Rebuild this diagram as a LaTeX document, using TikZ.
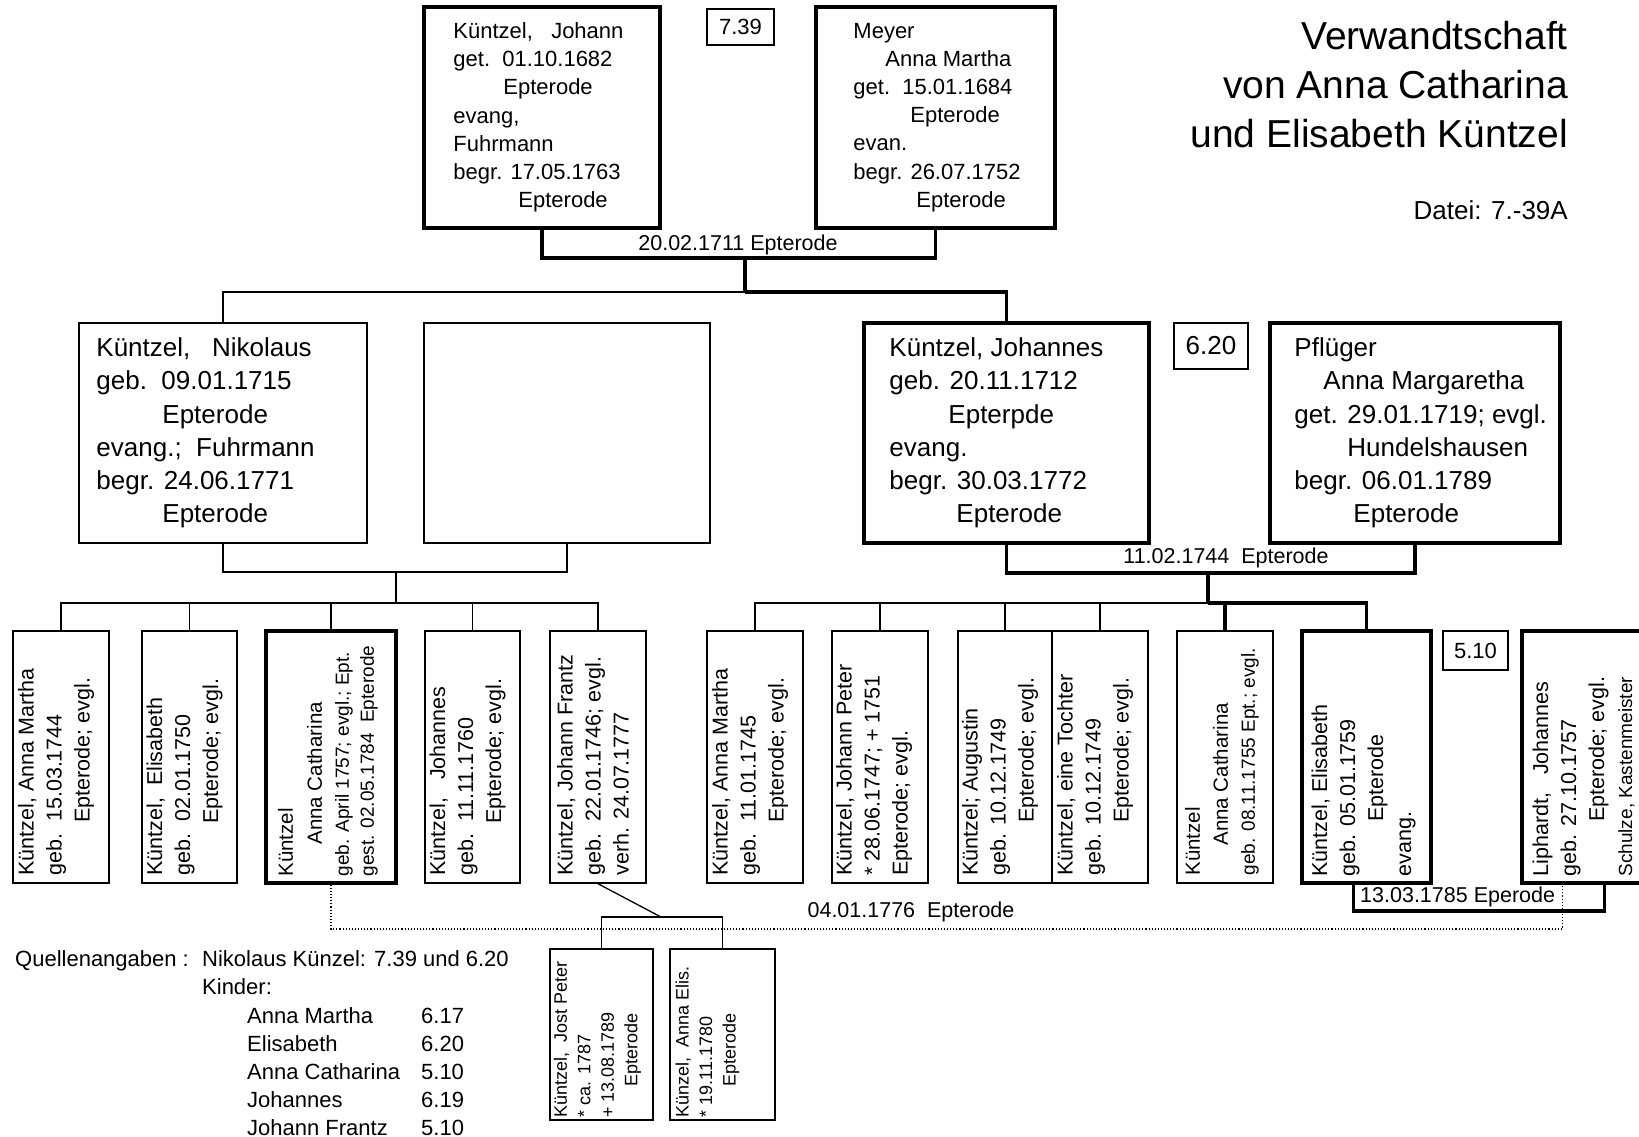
\documentclass[tikz,border=0pt]{standalone}
\usepackage{fontspec}
\setmainfont{Liberation Sans}
\newcommand{\fsTop}{\fontsize{22}{28.2}\selectfont}
\newcommand{\fsMid}{\fontsize{26}{33.2}\selectfont}
\newcommand{\fsKid}{\fontsize{21.5}{28}\selectfont}
\newcommand{\fsKidB}{\fontsize{20.5}{25}\selectfont}
\newcommand{\fsSmall}{\fontsize{19}{24}\selectfont}
\newcommand{\fsTiny}{\fontsize{18}{23.5}\selectfont}
\newcommand{\fsNote}{\fontsize{22}{28.2}\selectfont}
\newcommand{\fsTitle}{\fontsize{39}{49}\selectfont}

\begin{document}
\begin{tikzpicture}[
  x=1pt, y=-1pt,
  font=\fsTop,
  pbox/.style={rectangle, draw, line width=1.5pt, inner sep=0pt},
  pboxthick/.style={pbox, line width=3.5pt},
  txt/.style={inner sep=0pt, align=left, anchor=west},
  ktxt/.style={txt, rotate=90, font=\fsKid},
  link/.style={line width=1.3pt},
  thicklink/.style={line width=3.2pt},
  wedlink/.style={line width=1.1pt, dotted},
  datelabel/.style={inner sep=0pt, font=\fontsize{21.5}{26}\selectfont},
]
\useasboundingbox (0,0) rectangle (1639,1136);
\fill[white] (0,0) rectangle (1639,1136);
\clip (0,0) rectangle (1639,1136);

% title
\node[inner sep=0pt, align=right, anchor=north east, font=\fsTitle] (title) at (1568,21.5)
  {Verwandtschaft\\von Anna Catharina\\und Elisabeth Küntzel};
\node[inner sep=0pt, anchor=base east, font=\fontsize{26}{30}\selectfont] (datei) at (1568,219) {Datei: 7.-39A};

% generation 1
\node[pboxthick, minimum width=236pt, minimum height=221pt] (johann) at (542,117.5) {};
\node[txt] (johann-t) at ([xshift=31pt]johann.west)
  {Küntzel,\ \ \ Johann\\get.\ \ 01.10.1682\\\hspace*{50pt}Epterode\\evang,\\Fuhrmann\\begr. 17.05.1763\\\hspace*{65pt}Epterode};
\node[pbox, minimum width=67pt, minimum height=36pt] (ref739) at (740.5,27) {7.39};
\node[pboxthick, minimum width=239pt, minimum height=221pt] (meyer) at (935.5,117.5) {};
\node[txt] (meyer-t) at ([xshift=39pt]meyer.west)
  {Meyer\\\hspace*{32pt}Anna Martha\\get.\ \ 15.01.1684\\\hspace*{57pt}Epterode\\evan.\\begr. 26.07.1752\\\hspace*{63pt}Epterode};

% generation 2
\node[pbox, minimum width=288pt, minimum height=220pt] (nikolaus) at (223,433) {};
\node[txt, font=\fsMid] (nikolaus-t) at ([xshift=18pt]nikolaus.west)
  {Küntzel,\ \ \ Nikolaus\\geb.\ \ 09.01.1715\\\hspace*{66pt}Epterode\\evang.;\ \ Fuhrmann\\begr. 24.06.1771\\\hspace*{66pt}Epterode};
\node[pbox, minimum width=286pt, minimum height=220pt] (empty) at (567,433) {};
\node[pboxthick, minimum width=285pt, minimum height=220pt] (johannes) at (1006.5,433) {};
\node[txt, font=\fsMid] (johannes-t) at ([xshift=27pt]johannes.west)
  {Küntzel, Johannes\\geb. 20.11.1712\\\hspace*{59pt}Epterpde\\evang.\\begr. 30.03.1772\\\hspace*{67pt}Epterode};
\node[pbox, minimum width=74pt, minimum height=46pt, font=\fsMid] (ref620) at (1211,346) {6.20};
\node[pboxthick, minimum width=290pt, minimum height=220pt] (pflueger) at (1415,433) {};
\node[txt, font=\fsMid] (pflueger-t) at ([xshift=26pt]pflueger.west)
  {Pflüger\\\hspace*{29pt}Anna Margaretha\\get. 29.01.1719; evgl.\\\hspace*{53pt}Hundelshausen\\begr. 06.01.1789\\\hspace*{59pt}Epterode};

% generation 3, Nikolaus
\node[pbox, minimum width=96pt, minimum height=252pt] (c1) at (61,757) {};
\node[ktxt] (c1-t) at ([xshift=-5pt,yshift=8pt]c1.south)
  {Küntzel, Anna Martha\\geb.\ \ 15.03.1744\\\hspace*{53pt}Epterode; evgl.};
\node[pbox, minimum width=95pt, minimum height=252pt] (c2) at (189.5,757) {};
\node[ktxt] (c2-t) at ([xshift=-5pt,yshift=8pt]c2.south)
  {Küntzel,\ \ Elisabeth\\geb.\ \ 02.01.1750\\\hspace*{52pt}Epterode; evgl.};
\node[pboxthick, minimum width=130pt, minimum height=252pt] (c3) at (331,757) {};
\node[ktxt, font=\fsKidB] (c3-t) at ([xshift=-3pt,yshift=8pt]c3.south)
  {Küntzel\\[4pt]\hspace*{32pt}Anna Catharina\\[2pt]{\fsSmall geb. April 1757; evgl.; Ept.}\\{\fsSmall gest. 02.05.1784\ \ Epterode}};
\node[pbox, minimum width=95pt, minimum height=252pt] (c4) at (472.5,757) {};
\node[ktxt] (c4-t) at ([xshift=-5pt,yshift=8pt]c4.south)
  {Küntzel,\ \ \ Johannes\\geb.\ \ 11.11.1760\\\hspace*{52pt}Epterode; evgl.};
\node[pbox, minimum width=96pt, minimum height=252pt] (c5) at (598,757) {};
\node[ktxt] (c5-t) at ([xshift=-5pt,yshift=8pt]c5.south)
  {Küntzel, Johann Frantz\\geb.\ \ 22.01.1746; evgl.\\verh. 24.07.1777};

% generation 3, Johannes
\node[pbox, minimum width=96pt, minimum height=252pt] (d1) at (755,757) {};
\node[ktxt] (d1-t) at ([xshift=-5pt,yshift=8pt]d1.south)
  {Küntzel, Anna Martha\\geb.\ \ 11.01.1745\\\hspace*{53pt}Epterode; evgl.};
\node[pbox, minimum width=96pt, minimum height=252pt] (d2) at (880,757) {};
\node[ktxt] (d2-t) at ([xshift=-6pt,yshift=8pt]d2.south)
  {Küntzel, Johann Peter\\* 28.06.1747; + 1751\\Epterode; evgl.};
\node[pbox, minimum width=94pt, minimum height=252pt] (d3) at (1005,757) {};
\node[ktxt] (d3-t) at ([xshift=-5pt,yshift=8pt]d3.south)
  {Küntzel; Augustin\\geb. 10.12.1749\\\hspace*{53pt}Epterode; evgl.};
\node[pbox, minimum width=96pt, minimum height=252pt] (d4) at (1100,757) {};
\node[ktxt] (d4-t) at ([xshift=-5pt,yshift=8pt]d4.south)
  {Küntzel, eine Tochter\\geb. 10.12.1749\\\hspace*{53pt}Epterode; evgl.};
\node[pbox, minimum width=96pt, minimum height=252pt] (d5) at (1225,757) {};
\node[ktxt, font=\fsKidB] (d5-t) at ([xshift=-3pt,yshift=8pt]d5.south)
  {Küntzel\\[3pt]\hspace*{30pt}Anna Catharina\\[2pt]{\fsSmall geb. 08.11.1755 Ept.; evgl.}};
\node[pboxthick, minimum width=129pt, minimum height=252pt] (d6) at (1366.5,757) {};
\node[ktxt] (d6-t) at ([xshift=-3pt,yshift=8pt]d6.south)
  {Küntzel, Elisabeth\\geb. 05.01.1759\\\hspace*{55pt}Epterode\\evang.};
\node[pbox, minimum width=65pt, minimum height=39pt] (ref510) at (1475.5,650.5) {5.10};
\node[pboxthick, minimum width=129pt, minimum height=252pt] (lip) at (1586.5,757) {};
\node[ktxt] (lip-t) at ([xshift=-3pt,yshift=8pt]lip.south)
  {Liphardt,\ \ \ Johannes\\geb. 27.10.1757\\\hspace*{55pt}Epterode; evgl.\\{\fsSmall Schulze, Kastenmeister}};

% generation 4
\node[pbox, minimum width=103pt, minimum height=171pt] (k1) at (601.5,1034.5) {};
\node[ktxt, font=\fsTiny] (k1-t) at ([xshift=-4pt,yshift=3pt]k1.south)
  {Küntzel,\ \ Jost Peter\\* ca. 1787\\+ 13.08.1789\\\hspace*{31pt}Epterode};
\node[pbox, minimum width=105pt, minimum height=171pt] (k2) at (722.5,1034.5) {};
\node[ktxt, font=\fsTiny] (k2-t) at ([xshift=-15pt,yshift=3pt]k2.south)
  {Künzel,\ \ Anna Elis.\\* 19.11.1780\\\hspace*{31pt}Epterode};

% sources
\node[txt, anchor=base west, font=\fsNote] (quelle) at (15,966.5) {Quellenangaben :};
\node[txt, anchor=north west, font=\fsNote] (kinder) at (202,950.5)
  {Nikolaus Künzel: 7.39 und 6.20\\Kinder:\\
   \hspace*{45pt}\makebox[174pt][l]{Anna Martha}6.17\\
   \hspace*{45pt}\makebox[174pt][l]{Elisabeth}6.20\\
   \hspace*{45pt}\makebox[174pt][l]{Anna Catharina}5.10\\
   \hspace*{45pt}\makebox[174pt][l]{Johannes}6.19\\
   \hspace*{45pt}\makebox[174pt][l]{Johann Frantz}5.10};

% marriages and descent lines
\coordinate (m1) at (745,258);
\coordinate (g2) at (745,292);
\draw[thicklink] (johann.south) |- (m1) -| (meyer.south);
\node[datelabel] (m1-l) at (738,245) {20.02.1711 Epterode};
\draw[thicklink] (m1) -- (g2);
\draw[link] (g2) -| (nikolaus.north);
\draw[thicklink] (g2) -| (johannes.north);

\coordinate (m2) at (396,572);
\coordinate (g3a) at (396,603);
\draw[link] (nikolaus.south) |- (m2) -| (empty.south);
\draw[link] (m2) -- (g3a);
\foreach \k in {c1,c2,c3,c4,c5}
  \draw[link] (g3a) -| (\k.north);

\coordinate (m3) at (1208,573);
\coordinate (g3b) at (1208,603);
\draw[thicklink] (johannes.south) |- (m3) -| (pflueger.south);
\node[datelabel] (m3-l) at (1226,558) {11.02.1744\ \ Epterode};
\draw[thicklink] (m3) -- (g3b);
\foreach \k in {d1,d2,d3,d4}
  \draw[link] (g3b) -| (\k.north);
\draw[thicklink] (g3b) -| (d5.north);
\draw[thicklink] (g3b) -| (d6.north);

\coordinate (m4) at (1479,911);
\draw[thicklink] ([xshift=-13pt]d6.south) |- (m4) -| ([xshift=18pt]lip.south);
\node[datelabel, anchor=west] (m4-l) at (1360,897) {13.03.1785 Eperode};

\coordinate (m5) at (911,929);
\draw[wedlink] (c3.south) |- (m5) -| ([xshift=-24pt]lip.south);
\node[datelabel] (m5-l) at (911,912) {04.01.1776\ \ Epterode};

\coordinate (m6) at (661,917);
\draw[link] (c5.south) -- (m6);
\draw[link] (k1.north) |- (m6) -| (k2.north);
\end{tikzpicture}
\end{document}
